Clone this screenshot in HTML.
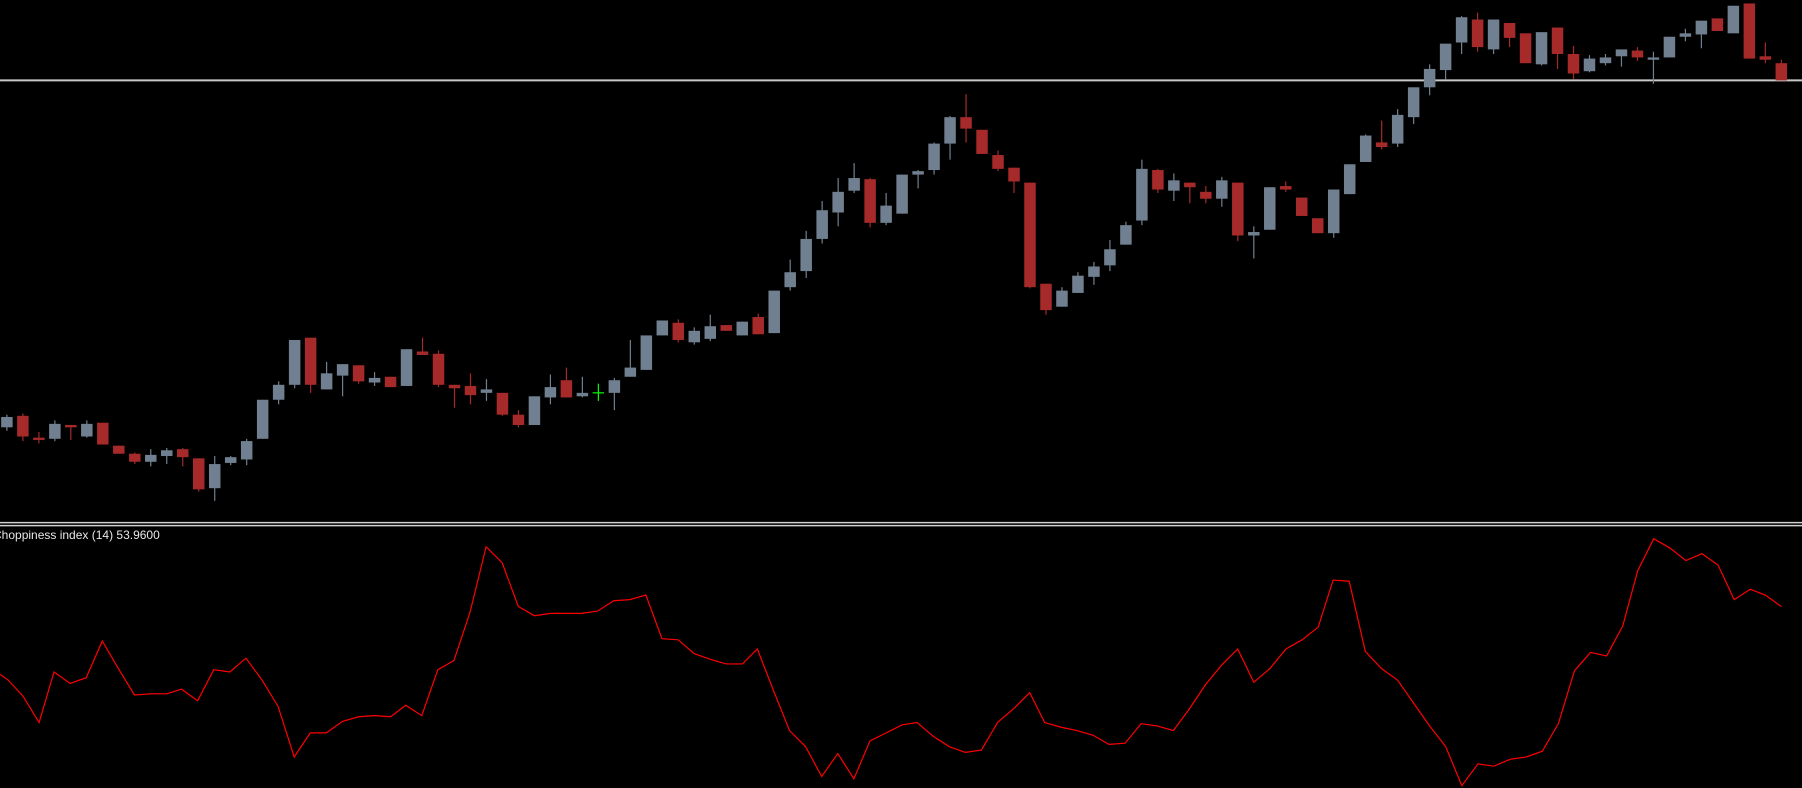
<!DOCTYPE html>
<html><head><meta charset="utf-8"><style>
html,body{margin:0;padding:0;background:#000;width:1802px;height:788px;overflow:hidden}
svg{position:absolute;left:0;top:0}
#lbl{position:absolute;left:-7px;top:528px;color:#e8e8e8;font:12px "Liberation Sans",sans-serif;white-space:nowrap}
</style></head><body>
<svg id="s" width="1802" height="788" viewBox="0 0 1568 686" preserveAspectRatio="none"></svg>
<div id="lbl">Choppiness index (14) 53.9600</div>
<script>
var C=[
['g',363,372,361,375],['r',362,380,360,384],['r',381,383,376,386],['g',369,382,366,384],['r',370,372,370,383],['g',369,380,366,381],['r',368,387,368,387],['r',388,395,388,395],['r',395,402,394,404],['g',396,402,391,406],
['g',392,397,390,404],['r',391,398,390,406],['r',399,426,399,428],['g',404,425,397,436],['g',398,403,397,405],['g',384,400,382,405],['g',348,382,348,382],['g',335,348,332,352],['g',296,335,296,338],['r',294,335,294,342],
['g',325,339,315,339],['g',317,327,317,345],['r',318,332,318,334],['g',329,333,324,336],['r',328,337,328,337],['g',304,336,304,336],['r',306,309,294,309],['r',308,335,305,337],['r',335,338,335,355],['r',336,344,325,352],
['g',339,342,330,349],['r',342,361,342,362],['r',361,370,357,372],['g',345,370,345,370],['g',337,346,326,352],['r',331,346,320,346],['g',342,345,328,346],['x',342,342,334,349],['g',331,342,329,357],['g',320,328,296,328],
['g',292,322,292,322],['g',279,292,279,292],['r',281,296,278,298],['g',288,298,285,300],['g',284,295,274,297],['r',283,288,283,288],['g',280,292,280,292],['r',276,291,273,291],['g',253,290,253,290],['g',237,250,226,253],
['g',208,236,201,242],['g',183,208,175,212],['g',167,185,155,197],['g',155,166,142,168],['r',156,194,155,198],['g',179,194,168,196],['g',152,186,152,186],['g',149,152,148,164],['g',125,148,124,152],['g',102,125,101,139],
['r',102,112,82,124],['r',113,134,113,134],['r',135,147,131,149],['r',146,158,146,168],['r',159,250,159,251],['r',247,270,247,274],['g',253,267,250,267],['g',240,255,237,255],['g',232,241,228,248],['g',217,231,209,236],
['g',196,213,193,213],['g',147,192,139,196],['r',148,165,147,168],['g',157,166,151,175],['r',159,163,159,177],['r',167,173,162,177],['g',157,173,154,180],['r',159,205,159,210],['g',202,205,197,225],['g',163,200,163,200],
['r',162,165,158,167],['r',172,188,172,188],['r',190,203,190,203],['g',165,203,165,207],['g',143,169,143,169],['g',118,141,117,141],['r',124,128,105,130],['g',100,125,95,128],['g',76,102,76,108],['g',60,76,56,83],
['g',38,61,38,69],['g',15,37,14,47],['r',17,41,11,45],['g',17,43,17,47],['r',20,33,20,41],['r',29,55,29,55],['g',28,56,28,57],['r',24,47,24,60],['r',47,64,40,69],['g',51,62,48,63],
['g',50,55,47,57],['g',43,49,43,58],['r',44,50,41,53],['g',50,51,45,73],['g',32,50,32,50],['g',29,32,25,36],['g',18,30,18,42],['r',16,27,16,27],['g',5,29,5,29],['r',3,51,3,51],
['r',49,52,37,55],['r',55,70,52,70]];
var h='';
h+='<line x1="0" y1="70" x2="1568" y2="70" stroke="#c8c8c8" stroke-width="2" vector-effect="non-scaling-stroke"/>';
h+='<line x1="0" y1="455" x2="1568" y2="455" stroke="#d0d0d0" stroke-width="1.5" vector-effect="non-scaling-stroke"/>';
h+='<line x1="0" y1="457.6" x2="1568" y2="457.6" stroke="#d0d0d0" stroke-width="1.5" vector-effect="non-scaling-stroke"/>';
for(var i=0;i<C.length;i++){var c=C[i],x=6+i*13.91;
 var col=c[0]=='g'?'#708090':(c[0]=='r'?'#a62a2a':'#00ff00');
 h+='<line x1="'+x+'" y1="'+c[3]+'" x2="'+x+'" y2="'+c[4]+'" stroke="'+col+'" stroke-width="1.2" vector-effect="non-scaling-stroke"/>';
 if(c[0]=='x'){h+='<line x1="'+(x-5)+'" y1="342" x2="'+(x+5)+'" y2="342" stroke="'+col+'" stroke-width="1.2" vector-effect="non-scaling-stroke"/>';continue;}
 var t=c[1],b=Math.max(c[2],t+2);
 h+='<rect x="'+(x-5)+'" y="'+t+'" width="10" height="'+(b-t)+'" fill="'+col+'"/>';
}
var P=[[0,587],[7,592],[20,606],[34,629],[47,585],[61,595],[75,590],[89,558],[103,582],[117,605],[131,604],[145,604],[158,600],[172,610],[186,583],[200,585],[214,573],[228,592],[242,615],[256,659],[270,638],[284,638],[298,628],[312,624],[326,623],[340,624],[353,614],[367,623],[381,583],[395,575],[409,533],[423,476],[437,490],[451,528],[465,536],[479,534],[492,534],[506,534],[520,532],[534,523],[548,522],[562,518],[576,556],[590,557],[604,569],[618,574],[632,578],[646,578],[659,565],[673,601],[687,636],[701,650],[715,676],[729,656],[743,678],[757,645],[771,638],[785,631],[798,629],[812,641],[826,650],[840,655],[854,653],[868,629],[882,617],[896,603],[909,629],[923,633],[937,636],[951,640],[965,648],[979,647],[993,630],[1007,632],[1021,636],[1035,617],[1049,596],[1063,579],[1077,565],[1091,594],[1105,582],[1119,565],[1133,557],[1147,546],[1160,505],[1174,506],[1188,567],[1202,582],[1216,592],[1230,612],[1244,632],[1258,650],[1272,684],[1286,665],[1300,667],[1314,661],[1328,659],[1342,654],[1356,630],[1370,584],[1384,568],[1398,571],[1412,545],[1425,497],[1439,469],[1453,477],[1467,488],[1481,482],[1495,492],[1509,522],[1523,513],[1536,518],[1550,528]];
h+='<polyline fill="none" stroke="#ff0000" stroke-width="1.2" vector-effect="non-scaling-stroke" points="'+P.map(function(p){return p.join(',')}).join(' ')+'"/>';
document.getElementById('s').innerHTML=h;
</script>
</body></html>
